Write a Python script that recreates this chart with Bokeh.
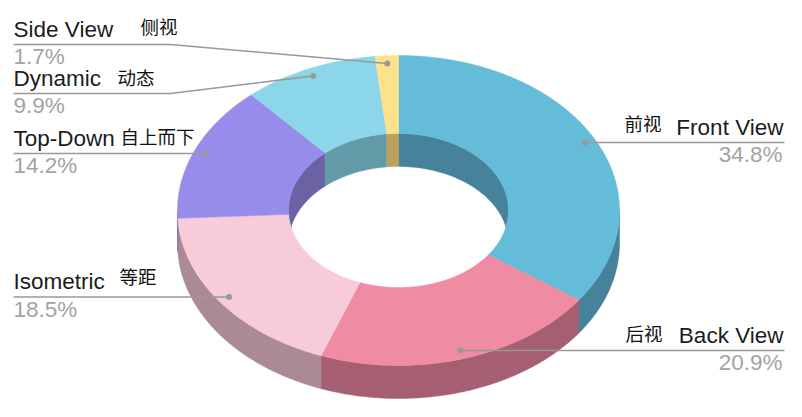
import numpy as np
from bokeh.embed import file_html
from bokeh.resources import INLINE
from bokeh.plotting import figure
from bokeh.core.properties import value

# ---- data
names = ["Front View", "Back View", "Isometric", "Top-Down", "Dynamic", "Side View"]
zh_names = ["前视", "后视", "等距", "自上而下", "动态", "侧视"]
shares = [34.8, 20.9, 18.5, 14.2, 9.9, 1.7]

# ---- styles
top_colors = ["#65bcd9", "#ef8ba2", "#f7cbd9", "#968ce9", "#8cd6ea", "#fde28b"]
wall_colors = ["#46829a", "#a55f70", "#ab8a93", "#6b62a3", "#629aa8", "#b9a25c"]
NAME_COLOR = "#1c1c1c"
PCT_COLOR = "#a3a3a3"
LEADER = "#999999"

# ---- layout (page pixels)
W, H = 786, 401
CX, CY = 398.0, 210.0
RX, RY = 221.0, 155.0
IRX, IRY = 110.0, 77.0
DEPTH = 33.0
ANCHOR = 0.95
TEXT_DY = -7.5
HOLE_LIMIT = np.degrees(np.arccos(-(DEPTH / 2) / IRY))  # where the hole's two edges meet

label_side = ["right", "right", "left", "left", "left", "left"]
label_edge = {"left": 13.0, "right": 783.0}
elbow_x = [None, None, None, None, 170.0, 170.0]
elbow_y = [142.0, 350.0, 296.5, 153.0, 93.0, 44.0]
zh_x = [624.0, 625.0, 119.0, 120.0, 117.0, 140.0]
zh_y = [130.0, 340.0, 283.0, 143.0, 84.0, 33.0]

p = figure(width=W, height=H, x_range=(0, W), y_range=(H, 0),
           output_backend="svg", toolbar_location=None, min_border=0,
           background_fill_color="white", border_fill_color="white")
p.axis.visible = False
p.grid.visible = False
p.outline_line_color = None

edges = np.concatenate([[0.0], np.cumsum(shares)]) / sum(shares) * 360.0
starts, ends = edges[:-1], edges[1:]


def pt(theta, rx, ry):
    t = np.radians(theta)
    return CX + rx * np.sin(t), CY - ry * np.cos(t)


def arc(a, b):
    return np.linspace(a, b, max(int(abs(b - a)) * 2, 2) + 1)


# outer wall (front half only)
wx, wy, wc = [], [], []
for a, b, c in zip(starts, ends, wall_colors):
    lo, hi = max(a, 90.0), min(b, 270.0)
    if lo >= hi:
        continue
    x, y = pt(arc(lo, hi), RX, RY)
    wx.append(np.concatenate([x, x[::-1]]))
    wy.append(np.concatenate([y, y[::-1] + DEPTH]))
    wc.append(c)
p.patches(wx, wy, fill_color=wc, line_color=wc, line_width=0.5)

# inner wall (far side of the hole): the slice reaching the hole's left end owns the whole end
wx, wy, wc = [], [], []
for a, b, c in zip(starts, ends, wall_colors):
    if b <= HOLE_LIMIT or a < HOLE_LIMIT:
        lo, hi = a, min(b, HOLE_LIMIT)
    elif b > 360.0 - HOLE_LIMIT and a < 360.0 - HOLE_LIMIT + 15.0 and b > 300.0:
        lo, hi = 360.0 - HOLE_LIMIT, b
    elif a >= 360.0 - HOLE_LIMIT:
        lo, hi = a, b
    else:
        continue
    th = arc(lo, hi)
    x, y = pt(th, IRX, IRY)
    yb = CY + DEPTH - IRY * np.abs(np.cos(np.radians(th)))
    wx.append(np.concatenate([x, x[::-1]]))
    wy.append(np.concatenate([y, yb[::-1]]))
    wc.append(c)
p.patches(wx, wy, fill_color=wc, line_color=wc, line_width=0.5)

# top face
tx, ty = [], []
for a, b in zip(starts, ends):
    th = arc(a, b)
    ox, oy = pt(th, RX, RY)
    ix, iy = pt(th, IRX, IRY)
    tx.append(np.concatenate([ox, ix[::-1]]))
    ty.append(np.concatenate([oy, iy[::-1]]))
p.patches(tx, ty, fill_color=top_colors, line_color=top_colors, line_width=0.5)

# leader lines and their dots
mids = (starts + ends) / 2
ax, ay = pt(mids, RX * ANCHOR, RY * ANCHOR)
lx, ly = [], []
for i in range(len(names)):
    edge = label_edge[label_side[i]] + (1.0 if label_side[i] == "right" else 0.0)
    if elbow_x[i] is None:
        lx.append([edge, ax[i]])
        ly.append([elbow_y[i], elbow_y[i]])
    else:
        lx.append([edge, elbow_x[i], ax[i]])
        ly.append([elbow_y[i], elbow_y[i], ay[i]])
p.multi_line(lx, ly, line_color=LEADER, line_width=1.6)
dot_y = [l[-1] for l in ly]
p.scatter(ax, dot_y, size=6, fill_color=LEADER, line_color=None)

# texts
for i in range(len(names)):
    side = label_side[i]
    pct_x = label_edge[side] - (1.0 if side == "right" else 0.0)
    p.text([label_edge[side]], [elbow_y[i] - 8 + TEXT_DY], text=[names[i]],
           text_font=value("Liberation Sans"), text_font_size="22.5px",
           text_color=NAME_COLOR, text_align=side, text_baseline="alphabetic")
    p.text([pct_x], [elbow_y[i] + 19.5 + TEXT_DY], text=[f"{shares[i]}%"],
           text_font=value("Liberation Sans"), text_font_size="22.5px",
           text_color=PCT_COLOR, text_align=side, text_baseline="alphabetic")
    p.text([zh_x[i]], [zh_y[i] + TEXT_DY], text=[zh_names[i]],
           text_font=value("Noto Sans CJK SC"), text_font_size="18.5px",
           text_color="#111111", text_align="left", text_baseline="alphabetic")

open("out.html", "w").write(file_html(p, INLINE))
